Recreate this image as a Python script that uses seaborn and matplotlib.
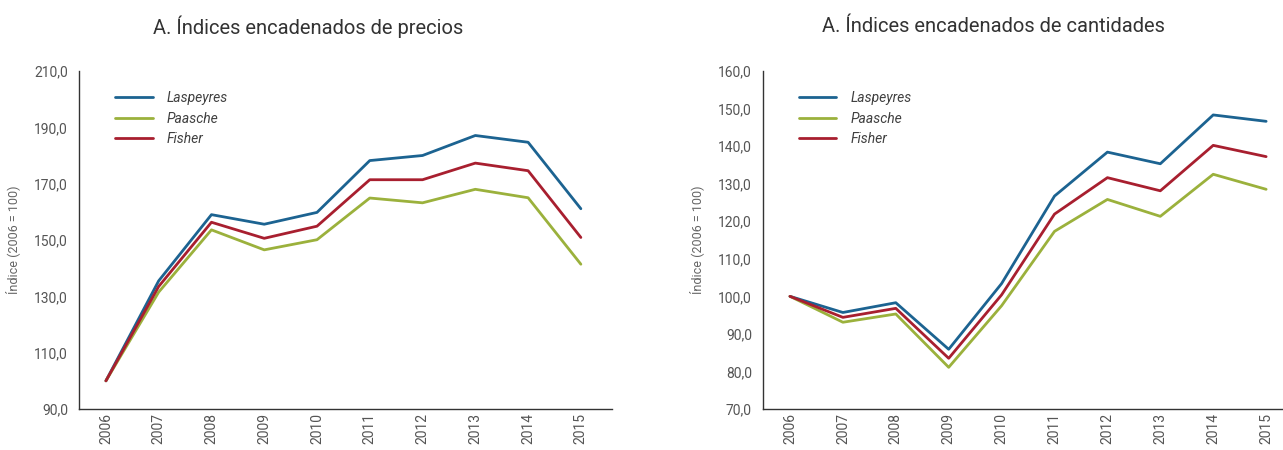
import matplotlib
matplotlib.use("Agg")
import matplotlib.pyplot as plt
from matplotlib.ticker import FuncFormatter
import seaborn as sns
import pandas as pd

# datos
anios = [2006, 2007, 2008, 2009, 2010, 2011, 2012, 2013, 2014, 2015]
series = ["Laspeyres", "Paasche", "Fisher"]

precios_laspeyres = [100.0, 135.5, 159.0, 155.6, 159.8, 178.2, 180.0, 187.1, 184.7, 161.1]
precios_paasche = [100.0, 131.5, 153.6, 146.5, 150.1, 164.9, 163.2, 168.0, 165.0, 141.4]
precios_fisher = [100.0, 133.5, 156.3, 150.6, 154.9, 171.4, 171.4, 177.3, 174.6, 150.9]

cant_laspeyres = [100.0, 95.7, 98.3, 85.9, 103.4, 126.7, 138.4, 135.3, 148.3, 146.6]
cant_paasche = [100.0, 93.1, 95.3, 81.1, 97.5, 117.3, 125.8, 121.3, 132.5, 128.5]
cant_fisher = [100.0, 94.4, 96.8, 83.5, 100.4, 121.9, 131.6, 128.1, 140.2, 137.2]

titulos = ["A. Índices encadenados de precios", "A. Índices encadenados de cantidades"]
etiqueta_y = "Índice (2006 = 100)"

colores = {"Laspeyres": "#1c6391", "Paasche": "#9bb13c", "Fisher": "#a81f2f"}

sns.set_theme(style="white")
plt.rcParams['font.family'] = ['Roboto', 'DejaVu Sans']


def armar_df(l, p, f):
    filas = []
    for nombre, vals in zip(series, [l, p, f]):
        for i, v in enumerate(vals):
            filas.append({"pos": i, "anio": anios[i], "serie": nombre, "valor": v})
    return pd.DataFrame(filas)


df_precios = armar_df(precios_laspeyres, precios_paasche, precios_fisher)
df_cant = armar_df(cant_laspeyres, cant_paasche, cant_fisher)

fig = plt.figure(figsize=(12.83, 4.5), dpi=100)
ax1 = fig.add_axes([79 / 1283, 1 - 409 / 450, (612 - 79) / 1283, (409 - 71) / 450])
ax2 = fig.add_axes([763 / 1283, 1 - 409 / 450, (1282 - 763) / 1283, (409 - 71) / 450])

config = [
    (ax1, df_precios, (90, 210), range(90, 211, 20), (-0.51, 9.59), 308, titulos[0]),
    (ax2, df_cant, (70, 160), range(70, 161, 10), (-0.51, 9.30), 993, titulos[1]),
]

gris = "#555555"
for ax, df, ylim, yticks, xlim, xt, titulo in config:
    sns.lineplot(data=df, x="pos", y="valor", hue="serie", hue_order=series,
                 palette=colores, linewidth=2.0, ax=ax, legend=True)
    ax.set_ylim(*ylim)
    ax.set_yticks(list(yticks))
    ax.yaxis.set_major_formatter(FuncFormatter(lambda v, _: f"{v:.1f}".replace(".", ",")))
    ax.set_xlim(*xlim)
    ax.set_xticks(range(len(anios)))
    ax.set_xticklabels([str(a) for a in anios], rotation=90)
    ax.tick_params(axis="both", length=0, labelsize=10, colors=gris)
    ax.tick_params(axis="x", pad=3)
    ax.tick_params(axis="y", pad=8)
    ax.set_xlabel("")
    ax.set_ylabel(etiqueta_y, fontsize=9, color="#666666", labelpad=10)
    sns.despine(ax=ax)
    for s in ["left", "bottom"]:
        ax.spines[s].set_color("#333333")
        ax.spines[s].set_linewidth(1.0)
    leg = ax.legend(loc="upper left", bbox_to_anchor=(0.045, 0.977), frameon=False,
                    handlelength=2.7, handletextpad=1.0, labelspacing=0.45, fontsize=10)
    for t in leg.get_texts():
        t.set_fontstyle("italic")
        t.set_color("#404040")
    fig.text(xt / 1283, 1 - 27 / 450, titulo, ha="center", va="center",
             fontsize=14.5, color="#333333")

fig.savefig("out.png", dpi=100)
